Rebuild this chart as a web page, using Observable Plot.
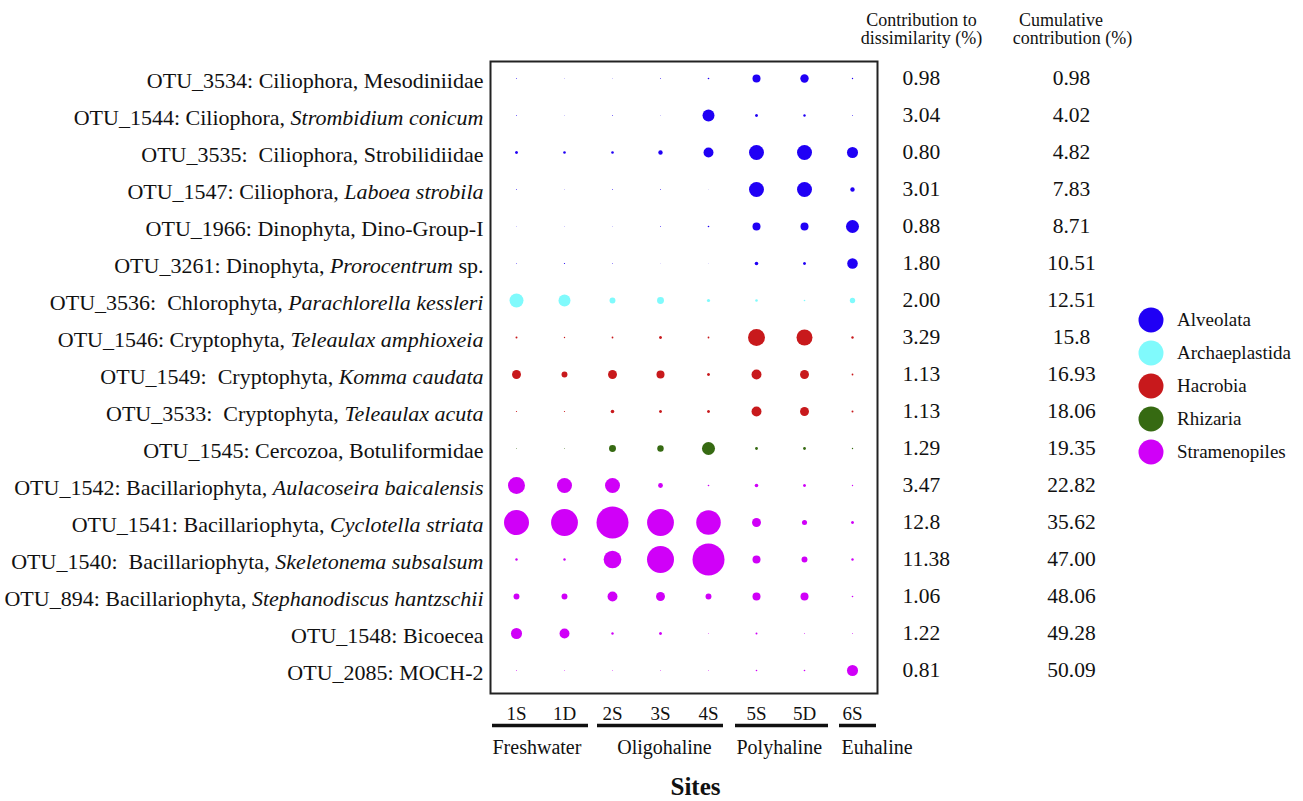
<!DOCTYPE html>
<html>
<head>
<meta charset="utf-8">
<script src="https://cdn.jsdelivr.net/npm/d3@7"></script>
<script src="https://cdn.jsdelivr.net/npm/@observablehq/plot@0.6"></script>
<style>
  html, body { margin: 0; padding: 0; background: #fff; }
  #wrap { position: relative; width: 1303px; height: 801px; font-family: "Liberation Serif", "Times New Roman", serif; }
  #legend { position: absolute; left: 1138px; top: 304px; }
  #legend .item { display: flex; align-items: center; height: 32.8px; font-size: 19px; color: #111; font-family: "Liberation Serif", "Times New Roman", serif; }
  #legend svg { margin-right: 13px; }
</style>
</head>
<body>
<div id="wrap"><div id="chart"></div><div id="legend"></div></div>
<script>
// ---- data ----
const sites = ["1S", "1D", "2S", "3S", "4S", "5S", "5D", "6S"];
const otuIds = ["OTU_3534", "OTU_1544", "OTU_3535", "OTU_1547", "OTU_1966", "OTU_3261", "OTU_3536",
  "OTU_1546", "OTU_1549", "OTU_3533", "OTU_1545", "OTU_1542", "OTU_1541", "OTU_1540", "OTU_894",
  "OTU_1548", "OTU_2085"];
const labelPlain = ["OTU_3534: Ciliophora, Mesodiniidae", "OTU_1544: Ciliophora, ", "OTU_3535:  Ciliophora, Strobilidiidae",
  "OTU_1547: Ciliophora, ", "OTU_1966: Dinophyta, Dino-Group-I", "OTU_3261: Dinophyta, ", "OTU_3536:  Chlorophyta, ",
  "OTU_1546: Cryptophyta, ", "OTU_1549:  Cryptophyta, ", "OTU_3533:  Cryptophyta, ", "OTU_1545: Cercozoa, Botuliformidae",
  "OTU_1542: Bacillariophyta, ", "OTU_1541: Bacillariophyta, ", "OTU_1540:  Bacillariophyta, ",
  "OTU_894: Bacillariophyta, ", "OTU_1548: Bicoecea", "OTU_2085: MOCH-2"];
const labelItalic = ["", "Strombidium conicum", "", "Laboea strobila", "", "Prorocentrum", "Parachlorella kessleri",
  "Teleaulax amphioxeia", "Komma caudata", "Teleaulax acuta", "", "Aulacoseira baicalensis", "Cyclotella striata",
  "Skeletonema subsalsum", "Stephanodiscus hantzschii", "", ""];
const labelSuffix = ["", "", "", "", "", " sp.", "", "", "", "", "", "", "", "", "", "", ""];
const taxonGroup = ["Alveolata", "Alveolata", "Alveolata", "Alveolata", "Alveolata", "Alveolata", "Archaeplastida",
  "Hacrobia", "Hacrobia", "Hacrobia", "Rhizaria", "Stramenopiles", "Stramenopiles", "Stramenopiles",
  "Stramenopiles", "Stramenopiles", "Stramenopiles"];
// relative abundance (%) per OTU at each site (1S,1D,2S,3S,4S,5S,5D,6S)
const abundance = [
  [0.03, 0.01, 0.01, 0.03, 0.08, 2.0, 2.2, 0.06],
  [0.03, 0.01, 0.03, 0.01, 4.5, 0.28, 0.18, 0.03],
  [0.28, 0.21, 0.21, 0.6, 3.1, 7.0, 7.0, 3.8],
  [0.03, 0.01, 0.03, 0.03, 0.005, 7.0, 7.0, 0.6],
  [0.01, 0.01, 0.01, 0.03, 0.08, 2.0, 2.0, 5.3],
  [0.02, 0.045, 0.02, 0.005, 0.005, 0.4, 0.28, 3.5],
  [6.1, 4.5, 1.1, 1.5, 0.32, 0.21, 0.08, 0.9],
  [0.12, 0.06, 0.1, 0.28, 0.1, 9.0, 8.0, 0.18],
  [2.5, 1.1, 2.5, 2.0, 0.28, 3.1, 2.5, 0.1],
  [0.045, 0.045, 0.4, 0.28, 0.28, 3.1, 2.5, 0.12],
  [0.02, 0.02, 1.5, 1.3, 5.3, 0.25, 0.25, 0.06],
  [9.0, 7.0, 7.0, 0.72, 0.08, 0.4, 0.28, 0.06],
  [19.5, 22.5, 32, 22.5, 18.8, 2.5, 0.8, 0.28],
  [0.18, 0.18, 9.8, 22.8, 32, 2.0, 1.1, 0.18],
  [1.1, 1.1, 3.1, 2.5, 1.1, 2.0, 2.0, 0.08],
  [3.8, 3.1, 0.18, 0.28, 0.02, 0.12, 0.03, 0.03],
  [0.03, 0.02, 0.02, 0.02, 0.02, 0.08, 0.08, 3.8]
];
const contribution = ["0.98", "3.04", "0.80", "3.01", "0.88", "1.80", "2.00", "3.29", "1.13", "1.13", "1.29",
  "3.47", "12.8", "11.38", "1.06", "1.22", "0.81"];
const cumulative = ["0.98", "4.02", "4.82", "7.83", "8.71", "10.51", "12.51", "15.8", "16.93", "18.06", "19.35",
  "22.82", "35.62", "47.00", "48.06", "49.28", "50.09"];
const groups = ["Alveolata", "Archaeplastida", "Hacrobia", "Rhizaria", "Stramenopiles"];
const groupColors = ["#2000f5", "#80fafc", "#c8191c", "#366a12", "#d000f8"];
const salinityNames = ["Freshwater", "Oligohaline", "Polyhaline", "Euhaline"];
const salinityFirst = ["1S", "2S", "5S", "6S"];
const salinityLast = ["1D", "4S", "5D", "6S"];

// ---- derived tables ----
const rows = otuIds.map((id, i) => ({
  id, plain: labelPlain[i], italic: labelItalic[i], suffix: labelSuffix[i],
  full: labelPlain[i] + labelItalic[i] + labelSuffix[i],
  contribution: contribution[i], cumulative: cumulative[i]
}));
const cells = otuIds.flatMap((id, i) => sites.map((s, j) => ({otu: id, site: s, value: abundance[i][j], group: taxonGroup[i]})));
const lastOtu = otuIds[otuIds.length - 1];

// per-group rule styling (insets only)
const ruleInsets = [[0, 0], [9, 9], [3, 0], [11, 0]];
const labelStyle = [
  {dx: -24, anchor: "start", site: "1S"},
  {dx: 4, anchor: "middle", site: "3S"},
  {dx: -20, anchor: "start", site: "5S"},
  {dx: -11, anchor: "start", site: "6S"}
];

const serif = "'Liberation Serif', 'Times New Roman', serif";

const chart = Plot.plot({
  width: 1303,
  height: 801,
  marginTop: 61,
  marginBottom: 108,
  marginLeft: 490,
  marginRight: 426,
  style: {fontFamily: serif, background: "white", overflow: "visible", color: "#111"},
  x: {type: "band", domain: sites, padding: 0, axis: null},
  y: {type: "point", domain: otuIds, range: [75, 672], padding: 0, axis: null},
  r: {type: "sqrt", domain: [0, 32], range: [0, 16]},
  color: {domain: groups, range: groupColors},
  marks: [
    Plot.frame({stroke: "#222", strokeWidth: 2}),
    Plot.dot(cells, {x: "site", y: "otu", r: "value", fill: "group", stroke: "none"}),
    // OTU labels
    Plot.text(rows, {y: "id", text: "full", frameAnchor: "left", textAnchor: "end", dx: -7, dy: 2, fontSize: 22, fontFamily: serif}),
    // contribution columns
    Plot.text(rows, {y: "id", text: "contribution", frameAnchor: "right", textAnchor: "start", dx: 25, fontSize: 21.5, fontFamily: serif}),
    Plot.text(rows, {y: "id", text: "cumulative", frameAnchor: "right", textAnchor: "middle", dx: 194, fontSize: 21.5, fontFamily: serif}),
    // headers
    Plot.text(["Contribution to"], {frameAnchor: "top-right", textAnchor: "middle", lineAnchor: "top", dx: 44, dy: -48.5, fontSize: 18, fontFamily: serif}),
    Plot.text(["dissimilarity (%)"], {frameAnchor: "top-right", textAnchor: "middle", lineAnchor: "top", dx: 44, dy: -30, fontSize: 18, fontFamily: serif}),
    Plot.text(["Cumulative"], {frameAnchor: "top-right", textAnchor: "middle", lineAnchor: "top", dx: 183.5, dy: -48.5, fontSize: 18, fontFamily: serif}),
    Plot.text(["contribution (%)"], {frameAnchor: "top-right", textAnchor: "middle", lineAnchor: "top", dx: 195, dy: -30, fontSize: 18, fontFamily: serif}),
    // site labels
    Plot.text(sites, {x: d => d, frameAnchor: "bottom", lineAnchor: "top", dy: 12.5, fontSize: 19, fontFamily: serif}),
    // salinity group rules
    ...salinityNames.map((g, k) => Plot.ruleY([g], {
      x1: () => salinityFirst[k], x2: () => salinityLast[k], y: () => lastOtu,
      dy: 55, stroke: "#111", strokeWidth: 3.4,
      insetLeft: ruleInsets[k][0], insetRight: ruleInsets[k][1]
    })),
    // salinity group labels
    ...salinityNames.map((g, k) => Plot.text([g], {
      x: () => labelStyle[k].site, frameAnchor: "bottom", lineAnchor: "top",
      textAnchor: labelStyle[k].anchor, dx: labelStyle[k].dx, dy: 46, fontSize: 20, fontFamily: serif
    })),
    // axis title
    Plot.text(["Sites"], {frameAnchor: "bottom", lineAnchor: "top", dx: 11.5, dy: 84, fontSize: 25, fontWeight: "bold", fontFamily: serif})
  ]
});
document.getElementById("chart").appendChild(chart);

// italic parts of OTU labels
const byFull = new Map(rows.map(r => [r.full, r]));
const ns = "http://www.w3.org/2000/svg";
chart.querySelectorAll("text").forEach(t => {
  const r = byFull.get(t.textContent);
  if (!r) return;
  while (t.firstChild) t.removeChild(t.firstChild);
  t.setAttribute("xml:space", "preserve");
  t.style.whiteSpace = "pre";
  const a = document.createElementNS(ns, "tspan"); a.textContent = r.plain; t.appendChild(a);
  if (r.italic) { const b = document.createElementNS(ns, "tspan"); b.textContent = r.italic; b.setAttribute("font-style", "italic"); t.appendChild(b); }
  if (r.suffix) { const c = document.createElementNS(ns, "tspan"); c.textContent = r.suffix; t.appendChild(c); }
});

// legend
const legend = document.getElementById("legend");
groups.forEach((g, i) => {
  const item = document.createElement("div");
  item.className = "item";
  item.innerHTML = `<svg width="26" height="26"><circle cx="13" cy="13" r="12.5" fill="${groupColors[i]}"></circle></svg><span>${g}</span>`;
  legend.appendChild(item);
});
</script>
</body>
</html>
